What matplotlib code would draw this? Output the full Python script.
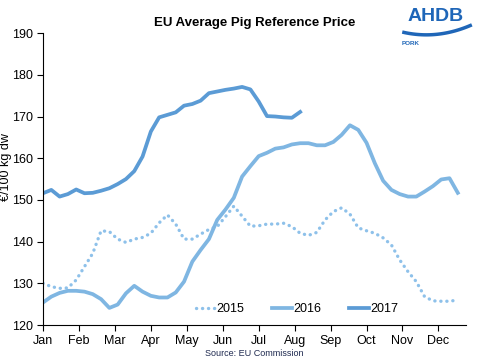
import numpy as np
import matplotlib
matplotlib.use('Agg')
import matplotlib.pyplot as plt

plt.rcParams['font.family'] = ['Liberation Sans', 'DejaVu Sans']

months = ['Jan', 'Feb', 'Mar', 'Apr', 'May', 'Jun', 'Jul', 'Aug', 'Sep', 'Oct', 'Nov', 'Dec']

# weekly prices, EUR/100 kg dw
p2015 = [130.0, 129.2, 128.8, 128.9, 130.8, 134.0, 137.2, 142.6, 142.4, 140.6,
         139.8, 140.6, 141.0, 142.0, 144.5, 146.4, 144.2, 140.6, 140.6, 141.8,
         142.9, 143.6, 146.0, 148.5, 146.1, 143.7, 143.8, 144.2, 144.2, 144.4,
         143.6, 142.0, 141.5, 142.2, 145.2, 147.2, 148.1, 146.6, 143.3, 142.6,
         142.0, 140.9, 139.2, 135.6, 132.8, 130.4, 126.8, 125.8, 125.7, 125.7,
         126.0]
p2016 = [125.4, 126.8, 127.7, 128.2, 128.2, 128.0, 127.4, 126.2, 124.1, 124.9,
         127.6, 129.4, 128.0, 127.0, 126.6, 126.6, 127.8, 130.4, 135.2, 138.0,
         140.6, 145.2, 147.7, 150.5, 155.6, 158.1, 160.5, 161.3, 162.3, 162.6,
         163.3, 163.6, 163.6, 163.1, 163.1, 163.9, 165.6, 167.9, 166.8, 163.7,
         158.8, 154.6, 152.4, 151.4, 150.8, 150.8, 152.0, 153.3, 154.9, 155.2,
         151.7]
p2017 = [151.6, 152.4, 150.8, 151.4, 152.5, 151.6, 151.7, 152.2, 152.8, 153.8,
         155.0, 156.9, 160.4, 166.4, 169.8, 170.4, 171.0, 172.6, 173.0, 173.8,
         175.6, 176.0, 176.4, 176.7, 177.1, 176.5, 173.6, 170.1, 170.0, 169.8,
         169.7, 171.1]

fig = plt.figure(figsize=(4.8, 3.6), dpi=100)
ax = fig.add_axes([0.0896, 0.0972, 0.8814, 0.8108])

ax.plot(np.arange(len(p2015)), p2015, color='#8ec1ea', lw=2.4, ls=(0, (0.05, 1.75)),
        dash_capstyle='round', label='2015')
ax.plot(np.arange(len(p2016)), p2016, color='#7fb6e2', lw=2.7, label='2016')
ax.plot(np.arange(len(p2017)), p2017, color='#5b9bd5', lw=2.7, label='2017')

ax.set_xlim(0, 51)
ax.set_ylim(120, 190)
ax.set_xticks(np.arange(12) * 52 / 12)
ax.set_xticklabels(months)
ax.set_yticks(np.arange(120, 191, 10))
for s in ['top', 'right']:
    ax.spines[s].set_visible(False)
ax.tick_params(labelsize=9, length=4, colors='black')
ax.set_ylabel('€/100 kg dw', fontsize=9)
ax.yaxis.set_label_coords(-0.073, 0.54)

ax.legend(loc='lower center', bbox_to_anchor=(0.6, -0.005), ncol=3, frameon=False,
          fontsize=9, handlelength=1.6, handletextpad=0.1, columnspacing=2.2)

fig.text(0.53, 0.936, 'EU Average Pig Reference Price', ha='center', va='center',
         fontsize=9.5, fontweight='bold')
fig.text(0.53, 0.018, 'Source: EU Commission', ha='center', va='center',
         fontsize=6.5, color='#1f2a50')

# logo
fig.text(0.908, 0.955, 'AHDB', ha='center', va='center', fontsize=14,
         fontweight='bold', color='#1f66b8')
t = np.linspace(0, 1, 60)
sx = 0.838 + 0.145 * t
sy = 0.911 - 0.045 * t + 0.065 * t ** 2
fig.add_artist(plt.Line2D(sx, sy, color='#1f66b8', lw=2.5, transform=fig.transFigure,
                          solid_capstyle='butt'))
fig.text(0.836, 0.88, 'PORK', ha='left', va='center', fontsize=4.5,
         fontweight='bold', color='#1f66b8')

fig.savefig('out.png', dpi=100)
